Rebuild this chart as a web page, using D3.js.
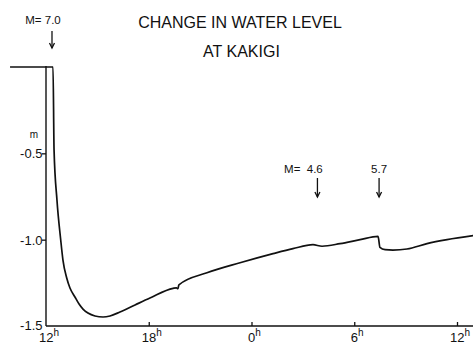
<!DOCTYPE html>
<html>
<head>
<meta charset="utf-8">
<script src="https://cdn.jsdelivr.net/npm/d3@7"></script>
<style>
  html, body { margin: 0; padding: 0; background: #fff; }
  svg { display: block; font-family: "Liberation Sans", Arial, sans-serif; }
</style>
</head>
<body>
<svg id="chart" width="473" height="345"></svg>
<script>
// Water level record at Kakigi, hours counted from noon of day 1 (36 = noon next day)
const hours = [9.9, 12.41, 12.47, 12.64, 12.86, 12.99, 13.21, 13.40, 13.69, 13.93, 14.16, 14.45, 14.86, 15.33, 15.74, 16.32, 17.20, 18.07, 19.42, 19.62, 19.70, 19.76, 21.40, 23.33, 25.26, 26.42, 27.59, 28.12, 29.17, 30.34, 31.39, 31.50, 31.80, 32.26, 33.08, 34.25, 35.42, 36.95];
const level = [0, 0, -0.48, -0.77, -1.002, -1.118, -1.222, -1.280, -1.332, -1.373, -1.402, -1.425, -1.442, -1.448, -1.442, -1.419, -1.378, -1.338, -1.282, -1.279, -1.284, -1.262, -1.192, -1.134, -1.081, -1.052, -1.029, -1.038, -1.023, -1.000, -0.981, -1.045, -1.058, -1.060, -1.054, -1.023, -1.000, -0.977];

// Axis ticks
const xTicks = [12, 18, 24, 30, 36];
const xTickLabels = ["12", "18", "0", "6", "12"];
const yTicks = [-0.5, -1.0, -1.5];
const yTickLabels = ["-0.5", "-1.0", "-1.5"];

// Earthquake markers
const quakeHours = [12.35, 27.85, 31.45];
const quakeLabels = ["M= 7.0", "M=  4.6", "5.7"];

const titleLines = ["CHANGE IN WATER LEVEL", "AT KAKIGI"];

const svg = d3.select("#chart");
const x = d3.scaleLinear().domain([12, 36]).range([46, 457]);
const y = d3.scaleLinear().domain([0, -1.5]).range([67, 326]);

// Title
svg.selectAll("text.title").data(titleLines).join("text")
  .attr("class", "title")
  .attr("x", (d, i) => i === 0 ? 240 : 241.5)
  .attr("y", (d, i) => i === 0 ? 28 : 57)
  .attr("text-anchor", "middle")
  .attr("font-size", 16)
  .attr("fill", "#111")
  .text(d => d);

// Axes lines
const axisColor = "#111";
svg.append("line")
  .attr("x1", x(12)).attr("x2", 473)
  .attr("y1", y(-1.5)).attr("y2", y(-1.5))
  .attr("stroke", axisColor).attr("stroke-width", 1.6);
svg.append("line")
  .attr("x1", x(12)).attr("x2", x(12))
  .attr("y1", y(0) - 1).attr("y2", y(-1.5))
  .attr("stroke", axisColor).attr("stroke-width", 1.4);

// X ticks (pointing up into the plot)
const xAxis = d3.axisBottom(x).tickValues(xTicks.slice(1)).tickSize(-4).tickFormat("");
const gx = svg.append("g").attr("transform", `translate(0,${y(-1.5)})`).call(xAxis);
gx.select(".domain").remove();
gx.selectAll(".tick line").attr("stroke", axisColor).attr("stroke-width", 1.3);

// X tick labels with superscript h
const xl = svg.selectAll("text.xl").data(xTicks).join("text")
  .attr("class", "xl")
  .attr("x", d => x(d) + 3)
  .attr("y", 342)
  .attr("text-anchor", "middle")
  .attr("font-size", 13)
  .attr("fill", "#111");
xl.append("tspan").text((d, i) => xTickLabels[i]);
xl.append("tspan").attr("font-size", 10).attr("dy", -6).text("h");

// Y ticks
const yAxis = d3.axisLeft(y).tickValues(yTicks.slice(0, 2)).tickSize(4).tickFormat("");
const gy = svg.append("g").attr("transform", `translate(${x(12)},0)`).call(yAxis);
gy.select(".domain").remove();
gy.selectAll(".tick line").attr("stroke", axisColor).attr("stroke-width", 1.3);

svg.selectAll("text.yl").data(yTicks).join("text")
  .attr("class", "yl")
  .attr("x", 42.5)
  .attr("y", (d, i) => y(d) + (i === 2 ? 4 : 5))
  .attr("text-anchor", "end")
  .attr("font-size", 13)
  .attr("fill", "#111")
  .text((d, i) => yTickLabels[i]);

// Unit
svg.append("text")
  .attr("x", 34).attr("y", 138)
  .attr("text-anchor", "middle")
  .attr("font-size", 10)
  .attr("fill", "#111")
  .text("m");

// Water level curve
const pts = hours.map((h, i) => [h, level[i]]);
const line = d3.line().x(d => x(d[0])).y(d => y(d[1])).curve(d3.curveMonotoneX);
svg.append("path")
  .attr("d", line(pts))
  .attr("fill", "none")
  .attr("stroke", "#111")
  .attr("stroke-width", 1.7)
  .attr("stroke-linejoin", "round");

// Earthquake arrows and labels
const arrowTop = [31, 178, 178];
const arrowBottom = [48, 197, 197];
const labelY = [24, 173, 173];
quakeHours.forEach((h, i) => {
  const ax = x(h);
  svg.append("line")
    .attr("x1", ax).attr("x2", ax)
    .attr("y1", arrowTop[i]).attr("y2", arrowBottom[i])
    .attr("stroke", "#111").attr("stroke-width", 1.3);
  svg.append("path")
    .attr("d", `M${ax - 2.5},${arrowBottom[i] - 5} L${ax},${arrowBottom[i]} L${ax + 2.5},${arrowBottom[i] - 5}`)
    .attr("fill", "none").attr("stroke", "#111").attr("stroke-width", 1.3);
  svg.append("text")
    .attr("x", i === 1 ? ax - 14 : (i === 0 ? ax - 9 : ax))
    .attr("y", labelY[i])
    .attr("text-anchor", "middle")
    .attr("font-size", 11.5)
    .attr("fill", "#111")
    .attr("xml:space", "preserve")
    .style("white-space", "pre")
    .text(quakeLabels[i]);
});
</script>
</body>
</html>
